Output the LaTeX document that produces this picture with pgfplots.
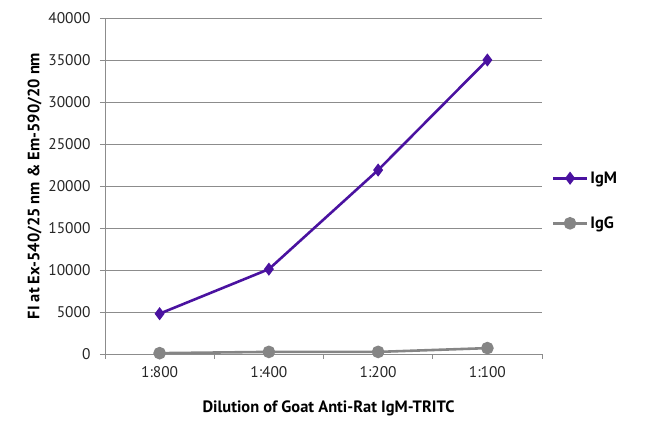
\documentclass[border=0pt]{standalone}
\usepackage{fontspec}
\setmainfont{PT Sans}
\usepackage{pgfplots}
\pgfplotsset{compat=1.18}
\definecolor{igm}{HTML}{4A12A0}
\definecolor{igg}{HTML}{858585}
\definecolor{gridc}{HTML}{8C8C8C}
\begin{document}
\begin{tikzpicture}
\useasboundingbox (0,0) rectangle (650bp,431bp);
\begin{axis}[
  at={(105bp,77bp)}, anchor=south west,
  scale only axis, width=437bp, height=336bp,
  xmin=-0.5, xmax=3.5, ymin=0, ymax=40000,
  axis x line*=bottom, axis y line*=left,
  axis line style={gridc, line width=0.8pt, -},
  xtick={0,1,2,3}, xticklabels={1:800,1:400,1:200,1:100},
  minor xtick={-0.5,0.5,1.5,2.5,3.5},
  major x tick style={draw=none},
  minor x tick style={gridc, line width=0.8pt},
  minor tick length=5bp,
  ytick={0,5000,...,40000},
  scaled y ticks=false,
  y tick style={gridc, line width=0.8pt},
  major tick length=5bp,
  tick align=outside,
  ymajorgrids, major grid style={gridc, line width=0.8pt},
  /pgf/number format/assume math mode=true,
  /pgf/number format/1000 sep={},
  tick label style={font=\fontsize{15.5}{17}\selectfont, text=black!85},
  yticklabel style={xshift=-6bp},
  xticklabel style={yshift=-4bp},
  xlabel={\bfseries Dilution of Goat Anti-Rat IgM-TRITC},
  ylabel={\bfseries FI at Ex-540/25 nm \& Em-590/20 nm},
  label style={font=\fontsize{16.5}{18}\selectfont},
  xlabel style={yshift=-16bp, xshift=5bp},
  ylabel style={yshift=0bp},
  legend style={at={(1.015,0.555)}, anchor=north west, draw=none, fill=none,
    font=\fontsize{16.5}{18}\selectfont\bfseries, row sep=28bp},
  legend cell align=left,
  legend image code/.code={\draw[#1, mark=none] (0bp,0bp) -- (34bp,0bp); \draw[#1] plot coordinates {(17bp,0bp)};},
]
\addplot[igm, line width=2.6pt, mark=diamond*, mark size=4.5bp, mark options={solid, fill=igm}]
  coordinates {(0,4800) (1,10100) (2,21900) (3,35000)};
\addlegendentry{IgM}
\addplot[igg, line width=2.6pt, mark=*, mark size=5bp, mark options={solid, fill=igg}]
  coordinates {(0,100) (1,250) (2,250) (3,700)};
\addlegendentry{IgG}
\end{axis}
\end{tikzpicture}
\end{document}
